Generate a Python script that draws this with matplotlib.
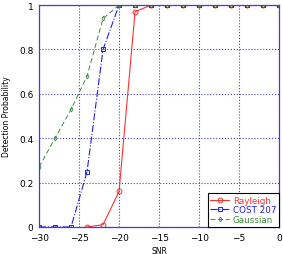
import matplotlib
matplotlib.use('Agg')
import matplotlib.pyplot as plt

snr = [-30, -28, -26, -24, -22, -20, -18, -16, -14, -12, -10, -8, -6, -4, -2, 0]

rayleigh_snr = snr[3:]
rayleigh = [0, 0.01, 0.16, 0.97, 1, 1, 1, 1, 1, 1, 1, 1, 1]
cost207 = [0, 0, 0, 0.25, 0.8, 1, 1, 1, 1, 1, 1, 1, 1, 1, 1, 1]
gaussian = [0.27, 0.40, 0.53, 0.68, 0.94, 1, 1, 1, 1, 1, 1, 1, 1, 1, 1, 1]

xticks = [-30, -25, -20, -15, -10, -5, 0]
yticks = [0, 0.2, 0.4, 0.6, 0.8, 1]
ytick_labels = ['0', '0.2', '0.4', '0.6', '0.8', '1']

fig = plt.figure(figsize=(2.83, 2.55), dpi=100)
ax = fig.add_axes([0.138, 0.106, 0.848, 0.87])

ax.plot(rayleigh_snr, rayleigh, '-o', color='#ff3030', lw=0.8, ms=3.5,
        mfc='none', mew=0.7, label='Rayleigh')
ax.plot(snr, cost207, '-.s', color='#2020e0', lw=0.8, ms=3.3,
        mfc='none', mew=0.7, label='COST 207')
ax.plot(snr, gaussian, 'd', color='#3a8a3a', ms=2.5,
        mfc='none', mew=0.6, ls=(0, (5, 3)), lw=0.7, label='Gaussian')

ax.set_xlim(-30, 0)
ax.set_ylim(0, 1)
ax.set_xticks(xticks)
ax.set_yticks(yticks)
ax.set_yticklabels(ytick_labels)
ax.grid(True, color='#4040d0', linestyle=':', linewidth=0.8)
for s in ax.spines.values():
    s.set_color('#4040d0')
    s.set_linewidth(0.9)
ax.tick_params(labelsize=6.5, length=0, pad=4)
ax.set_xlabel('SNR', fontsize=5.5, labelpad=3)
ax.set_ylabel('Detection Probability', fontsize=5.5, labelpad=6)

leg = ax.legend(loc='lower right', fontsize=6.3, fancybox=False, framealpha=1,
                edgecolor='black', borderaxespad=0, handlelength=2.2,
                handletextpad=0.4, borderpad=0.3, labelspacing=0.1)
leg.get_frame().set_linewidth(0.8)
for t, l in zip(leg.get_texts(), leg.get_lines()):
    t.set_color(l.get_color())

fig.savefig('out.png', dpi=100)
